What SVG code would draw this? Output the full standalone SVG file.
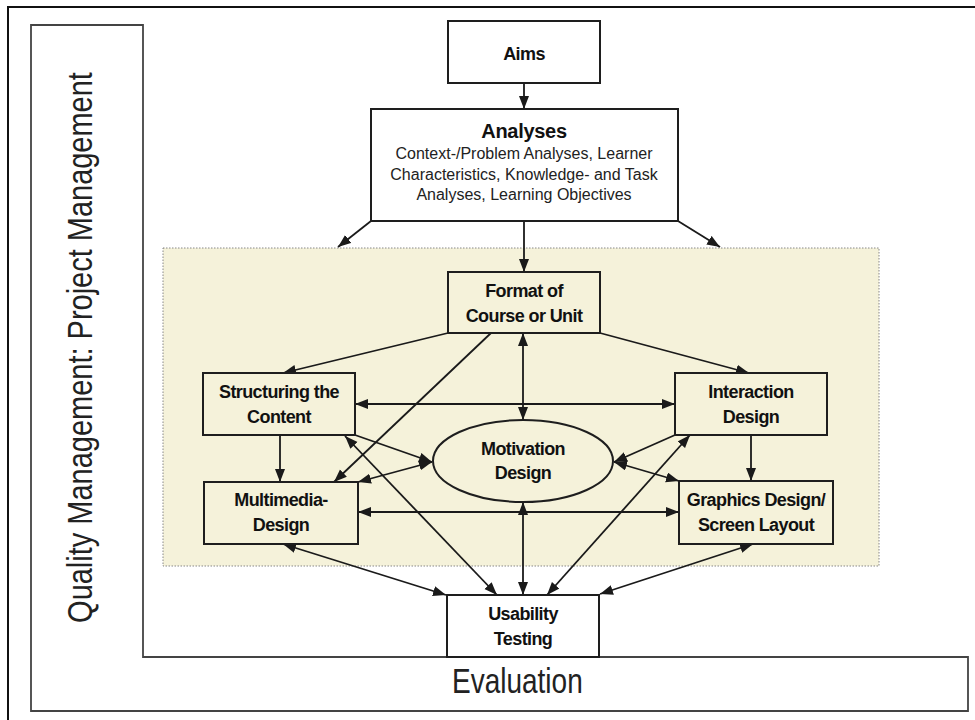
<svg xmlns="http://www.w3.org/2000/svg" width="975" height="720" viewBox="0 0 975 720">
<defs>
<marker id="ah" markerUnits="userSpaceOnUse" markerWidth="14" markerHeight="11" refX="13" refY="5" orient="auto-start-reverse">
<path d="M0,0 L13,5 L0,10 z" fill="#1a1a1a"/>
</marker>
<style>
.box{fill:#f5f2da;stroke:#1e1e1e;stroke-width:2}
.wbox{fill:#ffffff;stroke:#1e1e1e;stroke-width:2}
.lbl{font-family:"Liberation Sans",Arial,sans-serif;font-weight:bold;font-size:18px;letter-spacing:-0.6px;fill:#111;text-anchor:middle}
.sub{font-family:"Liberation Sans",Arial,sans-serif;font-size:16px;fill:#222;text-anchor:middle}
.big{font-family:"Liberation Sans",Arial,sans-serif;font-size:35px;fill:#222}
.c{stroke:#1a1a1a;stroke-width:1.8;fill:none}
.one{marker-end:url(#ah)}
.two{marker-start:url(#ah);marker-end:url(#ah)}
</style>
</defs>
<rect x="0" y="0" width="975" height="720" fill="#ffffff"/>
<rect x="8" y="7" width="1000" height="730" fill="none" stroke="#111" stroke-width="2"/>
<g id="frame">
<path d="M31,25 L143,25 L143,657 L968,657 L968,711 L31,711 Z" fill="#ffffff" stroke="#444" stroke-width="1.8"/>
<text class="big" transform="translate(92,347.5) rotate(-90) scale(0.828,1)" text-anchor="middle">Quality Management: Project Management</text>
<text class="big" transform="translate(452,693) scale(0.8,1)">Evaluation</text>
</g>
<rect id="panel" x="163" y="248" width="716" height="318" fill="#f5f2da" stroke="#888" stroke-width="1" stroke-dasharray="1.5,1.5"/>
<g id="connectors">
<path class="c one" d="M524,83 L524,109"/>
<path class="c one" d="M371,221 L338,247"/>
<path class="c one" d="M524,221 L524,272"/>
<path class="c one" d="M678,221 L720,247"/>
<path class="c one" d="M448,333 L283,373"/>
<path class="c one" d="M491,333 L334,482"/>
<path class="c one" d="M600,333 L749,373"/>
<path class="c two" d="M523,333 L523,420"/>
<path class="c two" d="M355,404 L675,404"/>
<path class="c one" d="M280,435 L280,482"/>
<path class="c one" d="M751,435 L751,481"/>
<path class="c one" d="M355,435 L432,462"/>
<path class="c two" d="M358,482 L432,462"/>
<path class="c two" d="M345,436 L497,595"/>
<path class="c two" d="M358,512 L679,512"/>
<path class="c two" d="M283,544 L446,595"/>
<path class="c two" d="M523,502 L523,595"/>
<path class="c one" d="M675,435 L614,462"/>
<path class="c two" d="M679,481 L614,462"/>
<path class="c two" d="M690,435 L547,595"/>
<path class="c two" d="M753,544 L600,594"/>
</g>
<g id="aims">
<rect class="wbox" x="448" y="21" width="152" height="62"/>
<text class="lbl" x="524" y="60">Aims</text>
</g>
<g id="analyses">
<rect class="wbox" x="371" y="109" width="307" height="112"/>
<text class="lbl" x="524" y="138" style="font-size:20px;letter-spacing:-0.3px">Analyses</text>
<text class="sub" x="524" y="159">Context-/Problem Analyses, Learner</text>
<text class="sub" x="524" y="180">Characteristics, Knowledge- and Task</text>
<text class="sub" x="524" y="200">Analyses, Learning Objectives</text>
</g>
<g id="format">
<rect class="box" x="448" y="272" width="152" height="61"/>
<text class="lbl" x="524" y="297">Format of</text>
<text class="lbl" x="524" y="322">Course or Unit</text>
</g>
<g id="structuring">
<rect class="box" x="203" y="373" width="152" height="62"/>
<text class="lbl" x="279" y="398">Structuring the</text>
<text class="lbl" x="279" y="423">Content</text>
</g>
<g id="interaction">
<rect class="box" x="675" y="373" width="152" height="62"/>
<text class="lbl" x="751" y="398">Interaction</text>
<text class="lbl" x="751" y="423">Design</text>
</g>
<g id="motivation">
<ellipse class="box" cx="523" cy="461" rx="90" ry="41"/>
<text class="lbl" x="523" y="455">Motivation</text>
<text class="lbl" x="523" y="479">Design</text>
</g>
<g id="multimedia">
<rect class="box" x="204" y="482" width="154" height="62"/>
<text class="lbl" x="281" y="506">Multimedia-</text>
<text class="lbl" x="281" y="531">Design</text>
</g>
<g id="graphics">
<rect class="box" x="679" y="481" width="154" height="63"/>
<text class="lbl" x="756" y="506">Graphics Design/</text>
<text class="lbl" x="756" y="531">Screen Layout</text>
</g>
<g id="usability">
<rect class="wbox" x="447" y="595" width="152" height="62"/>
<text class="lbl" x="523" y="620">Usability</text>
<text class="lbl" x="523" y="645">Testing</text>
</g>
</svg>
